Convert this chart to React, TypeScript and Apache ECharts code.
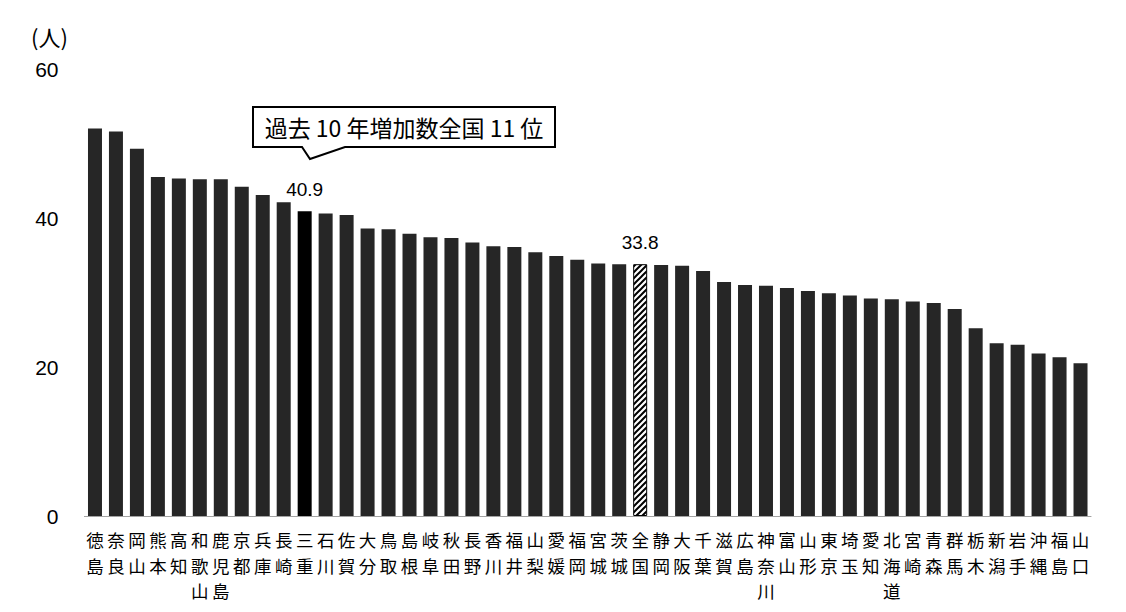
import React, { useEffect, useRef } from "react";
import * as echarts from "echarts";

const categories = [
  "徳島", "奈良", "岡山", "熊本", "高知", "和歌山", "鹿児島", "京都", "兵庫", "長崎",
  "三重", "石川", "佐賀", "大分", "鳥取", "島根", "岐阜", "秋田", "長野", "香川",
  "福井", "山梨", "愛媛", "福岡", "宮城", "茨城", "全国", "静岡", "大阪", "千葉",
  "滋賀", "広島", "神奈川", "富山", "山形", "東京", "埼玉", "愛知", "北海道", "宮崎",
  "青森", "群馬", "栃木", "新潟", "岩手", "沖縄", "福島", "山口",
];

const values = [
  52.0, 51.6, 49.3, 45.5, 45.3, 45.2, 45.2, 44.2, 43.1, 42.1,
  40.9, 40.6, 40.4, 38.6, 38.5, 37.9, 37.4, 37.3, 36.7, 36.2,
  36.1, 35.4, 34.9, 34.4, 33.9, 33.8, 33.8, 33.7, 33.6, 32.9,
  31.4, 31.0, 30.9, 30.6, 30.2, 29.9, 29.6, 29.2, 29.1, 28.8,
  28.6, 27.8, 25.2, 23.2, 23.0, 21.8, 21.3, 20.5,
];

const yTicks = [0, 20, 40, 60];
const highlightName = "三重";
const nationalName = "全国";
const unitLabel = "(人)";
const calloutText = "過去 10 年増加数全国 11 位";

const FONT = "'Liberation Sans', 'Noto Sans CJK JP', sans-serif";
const JP = "'Noto Sans CJK JP', sans-serif";

function makeHatch(): HTMLCanvasElement {
  const s = 6;
  const c = document.createElement("canvas");
  c.width = s;
  c.height = s;
  const ctx = c.getContext("2d")!;
  ctx.fillStyle = "#fff";
  ctx.fillRect(0, 0, s, s);
  ctx.strokeStyle = "#000";
  ctx.lineWidth = 2;
  ctx.beginPath();
  ctx.moveTo(-1, s + 1);
  ctx.lineTo(s + 1, -1);
  ctx.moveTo(-1, 1);
  ctx.lineTo(1, -1);
  ctx.moveTo(s - 1, s + 1);
  ctx.lineTo(s + 1, s - 1);
  ctx.stroke();
  return c;
}

export default function App() {
  const ref = useRef<HTMLDivElement>(null);

  useEffect(() => {
    if (!ref.current) return;
    const chart = echarts.init(ref.current, null, { renderer: "svg" });
    const hatch = makeHatch();

    const data = values.map((v, i) => {
      const name = categories[i];
      if (name === highlightName) {
        return {
          value: v,
          itemStyle: { color: "#000" },
          label: { show: true },
        };
      }
      if (name === nationalName) {
        return {
          value: v,
          itemStyle: {
            color: { image: hatch, repeat: "repeat" },
            borderColor: "#000",
            borderWidth: 1,
          },
          label: { show: true },
        };
      }
      return { value: v };
    });

    chart.setOption({
      animation: false,
      backgroundColor: "#fff",
      grid: { left: 84.5, right: 35, top: 69, bottom: 96, containLabel: false },
      xAxis: {
        type: "category",
        data: categories,
        axisLine: { show: true, lineStyle: { color: "#999", width: 1, type: "dotted" } },
        axisTick: { show: false },
        axisLabel: {
          interval: 0,
          margin: 11,
          color: "#000",
          fontSize: 17.5,
          lineHeight: 25.4,
          fontFamily: JP,
          formatter: (s: string) => s.split("").join("\n"),
        },
      },
      yAxis: {
        type: "value",
        min: yTicks[0],
        max: yTicks[yTicks.length - 1],
        interval: 20,
        axisLine: { show: false },
        axisTick: { show: false },
        splitLine: { show: false },
        axisLabel: {
          color: "#000",
          fontSize: 21,
          margin: 26,
          fontFamily: FONT,
        },
      },
      series: [
        {
          type: "bar",
          data,
          barWidth: 14,
          itemStyle: { color: "#262626" },
          label: {
            show: false,
            position: "top",
            distance: 12,
            color: "#000",
            fontSize: 19,
            fontFamily: FONT,
            formatter: (p: any) => Number(p.value).toFixed(1),
          },
        },
      ],
      graphic: [
        {
          type: "text",
          left: 31,
          top: 25,
          style: { text: unitLabel, fontSize: 22, fontFamily: JP, fill: "#000" },
        },
        {
          type: "polygon",
          shape: {
            points: [
              [253, 107],
              [555, 107],
              [555, 147],
              [345, 147],
              [310, 159],
              [302, 147],
              [253, 147],
            ],
          },
          style: { fill: "#fff", stroke: "#000", lineWidth: 2 },
          z: 10,
        },
        {
          type: "text",
          x: 404,
          y: 127,
          style: {
            text: calloutText,
            fontSize: 23,
            fontFamily: JP,
            fill: "#000",
            align: "center",
            verticalAlign: "middle",
          },
          z: 11,
        },
      ],
    });

    return () => chart.dispose();
  }, []);

  return (
    <div
      ref={ref}
      style={{ position: "fixed", left: 0, top: 0, width: 1126, height: 612 }}
    />
  );
}
